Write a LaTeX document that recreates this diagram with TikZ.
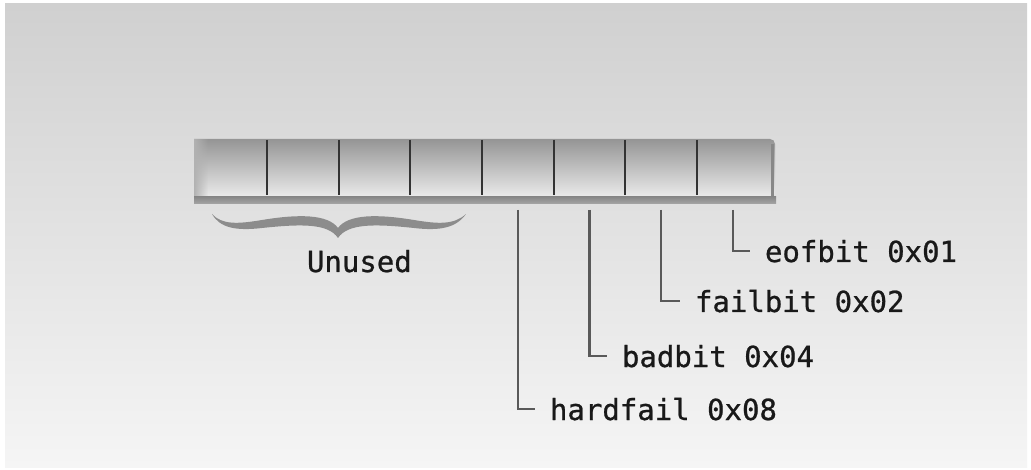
\documentclass[tikz,border=0pt]{standalone}
\usepackage{fontspec}
\newfontfamily\regmono{DejaVu Sans Mono}[FakeBold=0.8]
\usetikzlibrary{fadings}
\definecolor{bgTop}{HTML}{D0D0D0}
\definecolor{bgBot}{HTML}{F5F5F5}
\definecolor{regTop}{HTML}{959595}
\definecolor{regMid}{HTML}{D2D2D2}
\definecolor{regBot}{HTML}{ECECEC}
\definecolor{shelfG}{HTML}{888888}
\definecolor{divG}{HTML}{333333}
\definecolor{leadG}{HTML}{595959}
\definecolor{braceD}{HTML}{4E4E4E}
\definecolor{braceL}{HTML}{8C8C8C}
\newcommand{\lbl}{\fontsize{29}{34}\selectfont\regmono}

\begin{document}
\begin{tikzpicture}[x=1pt,y=-1pt,every node/.style={inner sep=0pt,outer sep=0pt},
 leader/.style={leadG,line width=2.3pt},
 bitlabel/.style={anchor=base west,font=\lbl,text=black!90}]
\path[use as bounding box] (0,0) rectangle (1031,470);
% ---------- background
\fill[white] (0,0) rectangle (1031,470);
\shade[top color=bgTop,bottom color=bgBot] (5,4) rectangle (1027,467);
% ---------- register body (8 cells, step 71.67pt)
\def\lx{195.3}
\def\cw{71.67}
\shade[top color=regTop,middle color=regMid,bottom color=regBot]
 (194,139) [rounded corners=5pt] -| (775,198) [sharp corners] -- (194,198) -- cycle;
\fill[black!30,path fading=east] (194,139) rectangle (208,198);
\draw[shelfG,line width=3pt] (772,144) -- (772,198);
\shade[top color=shelfG,bottom color=shelfG!75] (194,197) rectangle (776,204);
\foreach \i in {1,...,7} \draw[divG,line width=1.9pt] ({\lx+\i*\cw},140) -- ({\lx+\i*\cw},195);
\foreach \i in {0,...,7} \coordinate (cell\i) at ({\lx+(\i+.5)*\cw},210);
% ---------- brace over the unused cells
\shade[left color=braceL,middle color=braceD,right color=braceL]
 (212,214) .. controls (220,228) and (236,231) .. (262,228)
 .. controls (300,224) and (328,223) .. (338,238)
 .. controls (348,223) and (376,224) .. (414,228)
 .. controls (440,231) and (456,228) .. (466,214)
 .. controls (454,225) and (438,224) .. (414,220)
 .. controls (378,214) and (348,214) .. (338,228)
 .. controls (328,214) and (298,214) .. (262,220)
 .. controls (238,224) and (222,225) .. (212,214) -- cycle;
\node[bitlabel] (unused) at (307,272) {Unused};
% ---------- flag bits
\node[bitlabel] (eof)  at (765,262) {eofbit 0x01};
\node[bitlabel] (fail) at (695,312) {failbit 0x02};
\node[bitlabel] (bad)  at (622,367) {badbit 0x04};
\node[bitlabel] (hard) at (550,420) {hardfail 0x08};
\foreach \c/\n in {7/eof,6/fail,5/bad,4/hard}
 \draw[leader] (cell\c) |- ([xshift=-15pt]\n.west);
\end{tikzpicture}
\end{document}
